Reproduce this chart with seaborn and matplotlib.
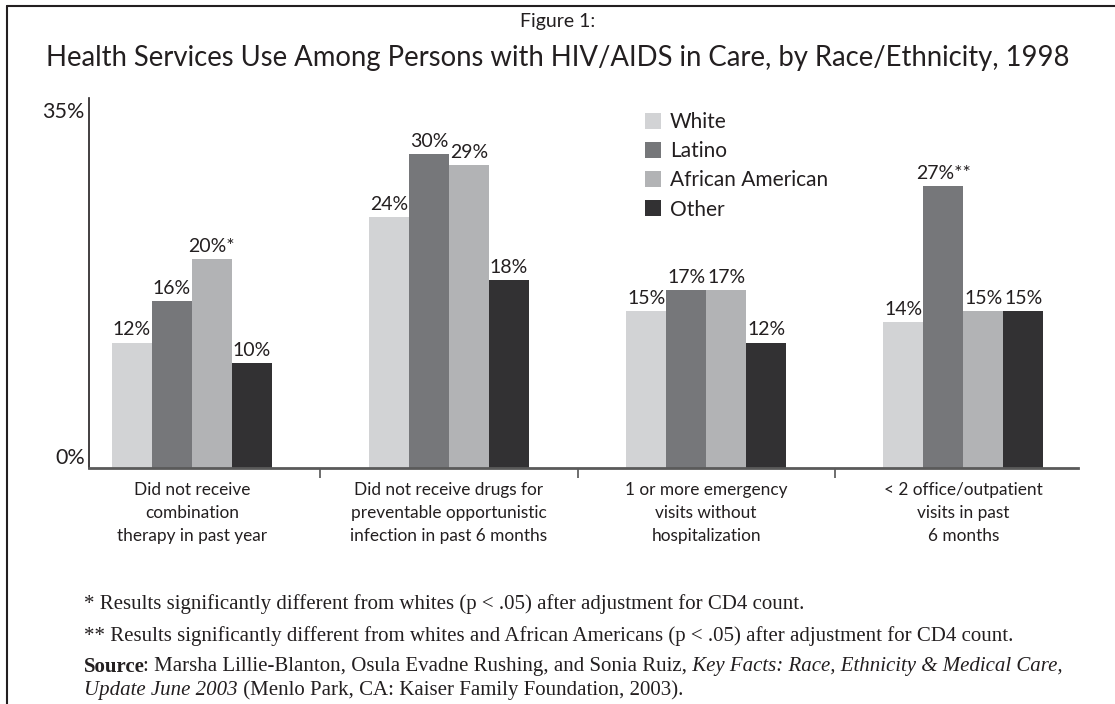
import matplotlib
matplotlib.use("Agg")
import matplotlib.pyplot as plt
import seaborn as sns
import pandas as pd
from matplotlib.lines import Line2D
from matplotlib.patches import Patch

# ---------------- data ----------------
categories = [
    "Did not receive\ncombination\ntherapy in past year",
    "Did not receive drugs for\npreventable opportunistic\ninfection in past 6 months",
    "1 or more emergency\nvisits without\nhospitalization",
    "< 2 office/outpatient\nvisits in past\n6 months",
]
groups = ["White", "Latino", "African American", "Other"]
white = [12, 24, 15, 14]
latino = [16, 30, 17, 27]
african_american = [20, 29, 17, 15]
other = [10, 18, 12, 15]
white_notes = ["", "", "", ""]
latino_notes = ["", "", "", "**"]
african_american_notes = ["*", "", "", ""]
other_notes = ["", "", "", ""]
y_ticks = [0, 35]
y_tick_labels = ["0%", "35%"]

fig_title_small = "Figure 1:"
fig_title = "Health Services Use Among Persons with HIV/AIDS in Care, by Race/Ethnicity, 1998"
footnote1 = "* Results significantly different from whites (p < .05) after adjustment for CD4 count."
footnote2 = "** Results significantly different from whites and African Americans (p < .05) after adjustment for CD4 count."

colors = ["#d2d3d5", "#76777a", "#b2b3b5", "#323133"]
text_color = "#231f20"

# ---------------- style ----------------
sns.set_theme(style="white")
plt.rcParams["font.family"] = ["Lato", "DejaVu Sans"]
plt.rcParams["text.color"] = text_color

rows = []
for g, vals in zip(groups, [white, latino, african_american, other]):
    for c, v in zip(categories, vals):
        rows.append({"category": c, "group": g, "value": v})
df = pd.DataFrame(rows)

W, H = 1115, 704
fig = plt.figure(figsize=(W / 100, H / 100), dpi=100)
ax = fig.add_axes([89 / W, (H - 468) / H, (1078 - 89) / W, (468 - 98) / H])

sns.barplot(
    data=df, x="category", y="value", hue="group",
    order=categories, hue_order=groups, palette=colors,
    width=0.622, saturation=1, gap=0, errorbar=None,
    linewidth=0, legend=False, ax=ax,
)

# value labels
for cont, vals, nts in zip(ax.containers,
                           [white, latino, african_american, other],
                           [white_notes, latino_notes, african_american_notes, other_notes]):
    ax.bar_label(cont, labels=[f"{v}%{n}" for v, n in zip(vals, nts)],
                 padding=3, fontsize=14, color=text_color)

# axes
ax.set_xlim(-0.40, 3.446)
ax.set_ylim(0, 35.4)
ax.set_xlabel("")
ax.set_ylabel("")
ax.set_yticks(y_ticks)
ax.set_yticklabels(y_tick_labels, fontsize=15.5, color=text_color)
ylabs = ax.get_yticklabels()
ylabs[0].set_verticalalignment("bottom")
ylabs[1].set_verticalalignment("top")
ax.tick_params(axis="y", length=0, pad=3)

ax.set_xticks(range(len(categories)))
ax.set_xticklabels(categories, fontsize=12.4, color=text_color, linespacing=1.55)
ax.tick_params(axis="x", which="major", length=0, pad=10)
ax.set_xticks([0.5, 1.5, 2.5], minor=True)
ax.tick_params(axis="x", which="minor", length=7, width=1.2, color="#555555",
               direction="out", bottom=True)

for s in ["top", "right"]:
    ax.spines[s].set_visible(False)
ax.spines["left"].set_color("#231f20")
ax.spines["left"].set_linewidth(1.2)
ax.spines["bottom"].set_color("#5a5a5a")
ax.spines["bottom"].set_linewidth(2)

# legend
handles = [Patch(facecolor=c, edgecolor="none", label=g) for c, g in zip(colors, groups)]
ax.legend(handles=handles, loc="upper left",
          bbox_to_anchor=(645 / W, 1 - 112 / H), bbox_transform=fig.transFigure,
          frameon=False, fontsize=15, handlelength=0.77, handleheight=0.77,
          handletextpad=0.42, labelspacing=0.44, borderpad=0, borderaxespad=0,
          labelcolor=text_color)

# titles
fig.text(0.5, 1 - 21 / H, fig_title_small, ha="center", va="center", fontsize=14, color=text_color)
fig.text(0.5, 1 - 58 / H, fig_title, ha="center", va="center", fontsize=19.8, color=text_color)

# footnotes (serif)
serif = ["Liberation Serif"]
fsz = 15
fig.text(84 / W, 1 - 604 / H, footnote1, ha="left", va="center", fontsize=fsz,
         family=serif, color=text_color)
fig.text(84 / W, 1 - 636 / H, footnote2, ha="left", va="center", fontsize=fsz,
         family=serif, color=text_color)

renderer = fig.canvas.get_renderer()


def rich_line(x_px, y_px, segments):
    x = x_px / W
    for s, kw, shift in segments:
        x += shift / W
        t = fig.text(x, 1 - y_px / H, s, ha="left", va="center", fontsize=fsz,
                     family=serif, color=text_color, **kw)
        bb = t.get_window_extent(renderer)
        x = bb.x1 / W


rich_line(84, 667, [
    ("Source", {"fontweight": "bold"}, 0),
    (": Marsha Lillie-Blanton, Osula Evadne Rushing, and Sonia Ruiz,", {}, -2),
    (" Key Facts: Race, Ethnicity & Medical Care,", {"fontstyle": "italic"}, 0),
])
rich_line(84, 690, [
    ("Update June 2003", {"fontstyle": "italic"}, 0),
    (" (Menlo Park, CA: Kaiser Family Foundation, 2003).", {}, 0),
])

# frame around the figure
fig.add_artist(Line2D([7 / W, 1], [1 - 6 / H, 1 - 6 / H], transform=fig.transFigure,
                      color=text_color, lw=1.5))
fig.add_artist(Line2D([7 / W, 7 / W], [1 - 6 / H, 0], transform=fig.transFigure,
                      color=text_color, lw=1.5))

fig.savefig("out.png", dpi=100)
